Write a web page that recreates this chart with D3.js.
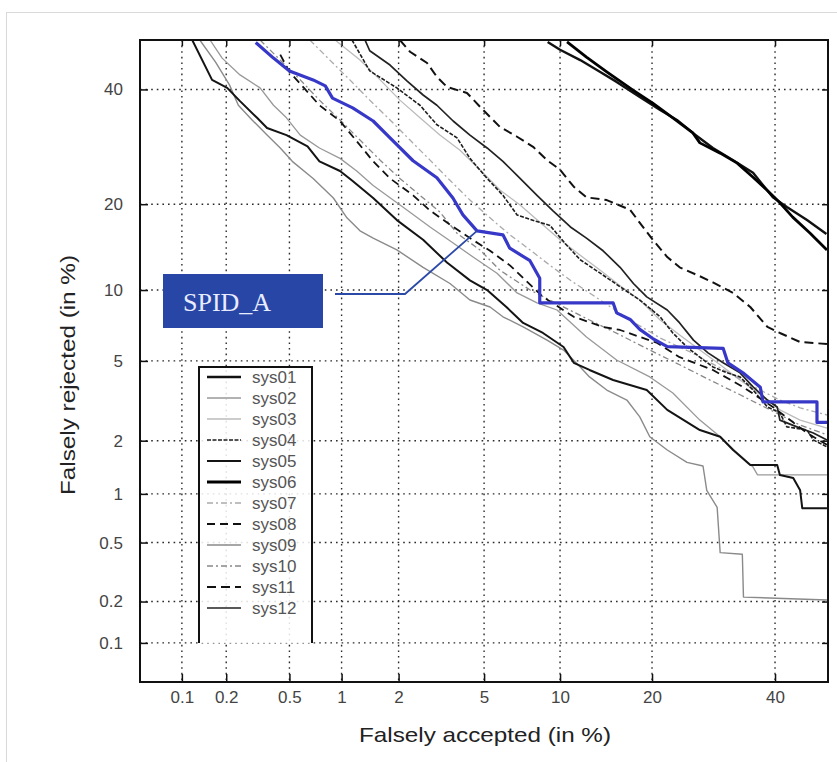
<!DOCTYPE html>
<html>
<head>
<meta charset="utf-8">
<script src="https://cdn.jsdelivr.net/npm/d3@7"></script>
<style>
  body { margin: 0; background: #fff; }
  svg { display: block; font-family: "Liberation Sans", Arial, sans-serif; }
</style>
</head>
<body>
<div id="det-chart"></div>
<script>
// tick positions, in percent
const xTicks = [0.1, 0.2, 0.5, 1, 2, 5, 10, 20, 40];
const yTicks = [0.1, 0.2, 0.5, 1, 2, 5, 10, 20, 40];
const tickLabels = ["0.1", "0.2", "0.5", "1", "2", "5", "10", "20", "40"];

// DET curves: [falsely accepted %, falsely rejected %]
const sys01 = [[9.0,49.6],[10.0,48.0],[11.8,45.9],[13.8,43.5],[15.6,41.5],[18.4,38.5],[21.1,36.0],[23.5,34.1],[26.0,31.6],[29.1,29.0],[32.5,26.9],[36.0,24.8],[39.6,21.0],[42.2,19.6],[46.0,17.8],[49.7,16.0]];
const sys02 = [[0.156,50],[0.188,46.3],[0.246,42.9],[0.33,40.3],[0.40,36.9],[0.48,34.5],[0.58,31.3],[0.75,29.0],[0.98,27.2],[1.21,25.1],[1.48,22.8],[2.1,19.6],[2.85,16.9],[3.65,14.9],[4.48,13.3],[5.67,11.6],[6.85,9.74],[8.2,8.89],[9.75,8.32],[12.4,6.4],[15.6,5.05],[19.7,4.21],[22.9,3.52],[27.0,2.57],[30.3,2.10],[32.9,1.75],[36.0,1.43],[36.8,1.29],[49.8,1.29]];
const sys03 = [[0.92,50],[1.26,45.9],[1.61,41.9],[2.03,37.9],[2.55,34.5],[3.17,31.3],[3.92,28.6],[4.80,25.3],[5.83,22.1],[7.04,19.9],[8.41,17.5],[10.0,15.3],[11.8,13.5],[13.8,11.9],[16.0,10.4],[18.4,9.13],[21.1,7.56],[23.9,6.53],[27.0,5.6],[30.3,4.8],[33.7,4.07],[37.3,3.45],[40.9,2.9],[44.7,2.57],[49.8,2.33]];
const sys04 = [[1.14,50],[1.42,43.7],[1.96,40.3],[2.55,36.9],[3.07,33.2],[3.8,30.8],[4.34,27.2],[5.15,23.9],[6.0,21.3],[6.85,18.5],[8.2,17.6],[9.18,17.1],[10.4,14.9],[11.8,13.0],[13.8,11.6],[16.0,10.3],[18.4,9.13],[21.1,7.8],[22.9,6.66],[25.0,5.78],[27.0,5.2],[29.1,4.69],[31.5,4.4],[33.7,4.21],[36.0,3.64],[38.6,3.0],[40.9,2.8],[42.2,2.37],[46.0,2.28],[47.2,2.02],[49.8,1.85]];
const sys05 = [[0.118,50],[0.161,41.9],[0.203,40.3],[0.246,37.7],[0.316,34.5],[0.365,32.6],[0.48,31.3],[0.64,29.3],[0.75,26.7],[0.98,25.1],[1.15,23.5],[1.48,20.9],[1.96,17.8],[2.64,15.3],[3.42,12.7],[4.34,10.9],[5.15,10.0],[6.2,8.56],[7.24,7.35],[8.64,6.66],[10.3,5.78],[11.2,4.9],[12.7,4.54],[15.2,4.07],[19.3,3.64],[22.1,2.90],[27.0,2.28],[30.3,2.10],[32.5,1.78],[35.5,1.47],[40.4,1.47],[40.9,1.29],[43.4,1.24],[44.7,1.05],[45.1,0.82],[49.8,0.82]];
const sys06 = [[10.6,49.6],[12.4,46.5],[14.5,43.5],[17.5,39.9],[20.1,37.3],[22.9,34.5],[25.9,31.7],[27.0,29.9],[30.3,28.1],[33.2,26.4],[36.0,24.1],[38.5,22.1],[40.9,20.2],[43.3,18.2],[46.6,16.1],[49.8,14.1]];
const sys07 = [[0.66,50],[0.86,45.9],[1.11,41.9],[1.42,37.9],[1.81,34.1],[2.28,30.4],[2.85,26.9],[3.53,23.6],[4.34,20.6],[5.30,18.1],[6.41,15.9],[7.71,14.1],[9.18,12.4],[10.9,10.9],[13.8,9.13],[17.2,7.56],[21.1,6.33],[25.5,5.49],[30.3,4.64],[35.5,3.85],[40.9,3.25],[44.7,2.97],[49.8,2.73]];
const sys08 = [[0.44,47.0],[0.50,43.5],[0.61,40.3],[0.75,36.9],[0.98,33.9],[1.21,30.2],[1.48,26.7],[1.81,23.9],[2.36,21.3],[2.85,19.1],[3.53,17.2],[4.34,15.5],[5.30,14.0],[6.41,12.4],[8.64,9.4],[11.2,7.8],[14.1,7.07],[16.0,6.86],[20.7,6.02],[23.9,5.2],[29.1,4.54],[34.2,3.77],[39.6,3.0],[46.0,2.2],[49.8,1.9]];
const sys09 = [[0.133,50],[0.17,45.5],[0.21,40.9],[0.24,36.9],[0.294,34.1],[0.365,31.3],[0.44,29.0],[0.52,26.7],[0.69,23.9],[0.90,20.9],[1.07,18.1],[1.26,16.4],[1.48,15.5],[1.96,14.1],[2.64,12.2],[3.53,10.6],[4.34,9.13],[5.30,8.56],[6.0,7.8],[7.24,7.07],[8.95,6.2],[10.3,5.6],[11.8,4.69],[12.7,4.21],[14.5,3.64],[16.8,3.25],[18.4,2.67],[19.7,2.10],[22.1,1.78],[25.0,1.52],[27.5,1.45],[28.1,1.05],[29.8,0.83],[30.3,0.43],[34.1,0.42],[34.3,0.215],[49.8,0.205]];
const sys10 = [[0.33,50],[0.44,45.9],[0.58,41.9],[0.75,37.9],[0.98,34.1],[1.26,30.4],[1.61,26.9],[2.03,23.9],[2.55,21.3],[3.17,18.9],[3.8,16.1],[4.80,14.1],[5.83,11.9],[7.71,10.0],[10.0,8.7],[12.7,7.56],[16.0,6.53],[19.7,5.6],[23.9,4.8],[28.6,4.07],[33.7,3.45],[39.1,2.9],[44.7,2.42],[49.8,2.15]];
const sys11 = [[2.03,50],[2.28,47.6],[2.76,45.3],[3.07,42.5],[3.42,40.5],[4.21,39.3],[4.95,36.0],[5.83,32.8],[6.85,31.0],[7.92,29.2],[8.95,26.9],[10.0,25.3],[11.2,22.6],[12.4,21.0],[14.5,20.6],[17.2,19.2],[18.8,16.9],[20.1,15.3],[22.1,13.3],[23.9,12.2],[27.0,11.3],[29.1,10.7],[32.5,9.74],[35.5,8.56],[38.6,7.07],[40.9,6.66],[44.7,6.08],[49.8,5.96]];
const sys12 = [[1.34,50],[1.42,47.8],[1.81,44.9],[2.2,41.7],[2.64,38.9],[3.07,36.9],[3.65,33.9],[4.34,31.3],[5.15,29.0],[6.0,26.7],[7.04,23.9],[8.2,21.3],[9.4,19.1],[10.9,16.9],[12.4,15.5],[14.1,14.0],[16.0,12.2],[17.6,10.6],[19.3,9.4],[22.1,8.32],[23.9,7.35],[26.0,6.2],[28.3,5.44],[30.8,4.9],[33.7,4.4],[36.0,3.77],[38.6,3.25],[40.4,3.0],[40.9,2.57],[44.1,2.37],[47.2,2.2],[49.8,2.02]];
const spidA = [[0.31,49.5],[0.40,46.3],[0.50,43.7],[0.69,41.9],[0.81,40.7],[0.89,38.3],[1.15,36.4],[1.48,33.9],[1.81,30.8],[2.36,26.8],[3.07,24.0],[3.64,20.9],[4.04,18.5],[4.66,16.4],[6.0,15.9],[6.4,14.3],[7.7,12.9],[8.4,11.1],[8.4,8.9],[15.2,8.9],[15.6,8.1],[17.2,7.6],[18.4,6.9],[20.1,6.3],[22.1,5.8],[30.8,5.7],[31.6,4.9],[34.2,4.4],[37.3,3.76],[37.8,3.18],[47.9,3.18],[47.9,2.5],[50,2.5]];

const legendNames = ["sys01","sys02","sys03","sys04","sys05","sys06","sys07","sys08","sys09","sys10","sys11","sys12"];
const seriesData = {sys01, sys02, sys03, sys04, sys05, sys06, sys07, sys08, sys09, sys10, sys11, sys12};

// line styles per system
const styles = {
    sys01: {stroke: "#111", width: 2.4, dash: null},
    sys02: {stroke: "#999", width: 1.3, dash: null},
    sys03: {stroke: "#bbb", width: 1.3, dash: null},
    sys04: {stroke: "#1e1e1e", width: 1.6, dash: "4,1.5"},
    sys05: {stroke: "#141414", width: 2, dash: null},
    sys06: {stroke: "#000", width: 2.8, dash: null},
    sys07: {stroke: "#aaa", width: 1.3, dash: "6,3,2,3"},
    sys08: {stroke: "#111", width: 1.8, dash: "8,5"},
    sys09: {stroke: "#8a8a8a", width: 1.4, dash: null},
    sys10: {stroke: "#888", width: 1.3, dash: "6,3,2,3"},
    sys11: {stroke: "#111", width: 2, dash: "9,5"},
    sys12: {stroke: "#222", width: 1.7, dash: null}
};
const drawOrder = ["sys03","sys07","sys10","sys02","sys09","sys04","sys12","sys08","sys11","sys05","sys01","sys06"];

// inverse of the standard normal cdf (Acklam)
function probit(p) {
    const a = [-3.969683028665376e+01, 2.209460984245205e+02, -2.759285104469687e+02, 1.383577518672690e+02, -3.066479806614716e+01, 2.506628277459239e+00];
    const b = [-5.447609879822406e+01, 1.615858368580409e+02, -1.556989798598866e+02, 6.680131188771972e+01, -1.328068155288572e+01];
    const c = [-7.784894002430293e-03, -3.223964580411365e-01, -2.400758277161838e+00, -2.549732539343734e+00, 4.374664141464968e+00, 2.938163982698783e+00];
    const d = [7.784695709041462e-03, 3.224671290700398e-01, 2.445134137142996e+00, 3.754408661907416e+00];
    let q, r;
    if (p < 0.02425) {
        q = Math.sqrt(-2 * Math.log(p));
        return (((((c[0]*q+c[1])*q+c[2])*q+c[3])*q+c[4])*q+c[5]) / ((((d[0]*q+d[1])*q+d[2])*q+d[3])*q+1);
    } else if (p <= 1 - 0.02425) {
        q = p - 0.5; r = q * q;
        return (((((a[0]*r+a[1])*r+a[2])*r+a[3])*r+a[4])*r+a[5])*q / (((((b[0]*r+b[1])*r+b[2])*r+b[3])*r+b[4])*r+1);
    }
    q = Math.sqrt(-2 * Math.log(1 - p));
    return -(((((c[0]*q+c[1])*q+c[2])*q+c[3])*q+c[4])*q+c[5]) / ((((d[0]*q+d[1])*q+d[2])*q+d[3])*q+1);
}

let width = 837, height = 762;
let plot = {left: 140, top: 40, right: 828, bottom: 682};

let svg = d3.select("#det-chart").append("svg")
    .attr("width", width)
    .attr("height", height);

// faint border round the picture
svg.append("rect")
    .attr("x", 6.5).attr("y", 12.5)
    .attr("width", 840).attr("height", 800)
    .attr("fill", "none").attr("stroke", "#d9d9d9");

let x = d3.scaleLinear().domain([probit(0.0005), 0]).range([plot.left, plot.right]);
let y = d3.scaleLinear().domain([probit(0.0005), 0]).range([plot.bottom, plot.top]);
let fx = v => x(probit(v / 100));
let fy = v => y(probit(v / 100));

svg.append("clipPath").attr("id", "plot-clip")
    .append("rect")
    .attr("x", plot.left).attr("y", plot.top)
    .attr("width", plot.right - plot.left).attr("height", plot.bottom - plot.top);

// dotted grid
let grid = svg.append("g").attr("stroke", "#2a2a2a").attr("stroke-width", 1.4).attr("stroke-dasharray", "1.6,4");
grid.selectAll("line.gx").data(xTicks).enter().append("line")
    .attr("x1", d => fx(d)).attr("x2", d => fx(d))
    .attr("y1", plot.top).attr("y2", plot.bottom);
grid.selectAll("line.gy").data(yTicks).enter().append("line")
    .attr("y1", d => fy(d)).attr("y2", d => fy(d))
    .attr("x1", plot.left).attr("x2", plot.right);

let line = d3.line()
    .x(d => fx(d[0]))
    .y(d => fy(d[1]));

let curves = svg.append("g").attr("clip-path", "url(#plot-clip)").attr("fill", "none");
drawOrder.forEach(name => {
    let st = styles[name];
    curves.append("path")
        .datum(seriesData[name])
        .attr("d", line)
        .attr("stroke", st.stroke)
        .attr("stroke-width", st.width)
        .attr("stroke-dasharray", st.dash)
        .attr("stroke-linejoin", "round");
});

curves.append("path")
    .datum(spidA)
    .attr("d", line)
    .attr("stroke", "#3838c8")
    .attr("stroke-width", 3.2)
    .attr("stroke-linejoin", "round");

// axes with ticks pointing inwards
let xProbit = xTicks.map(t => probit(t / 100));
let yProbit = yTicks.map(t => probit(t / 100));

let axisStyle = g => {
    g.select(".domain").remove();
    g.selectAll(".tick line").attr("stroke", "#111").attr("stroke-width", 1.5);
    g.selectAll(".tick text").attr("fill", "#444").style("font-size", "17px");
};

svg.append("g").attr("transform", `translate(0,${plot.bottom})`)
    .call(d3.axisBottom(x).tickValues(xProbit).tickFormat((d, i) => tickLabels[i]).tickSize(-8).tickPadding(9))
    .call(axisStyle);
svg.append("g").attr("transform", `translate(${plot.left},0)`)
    .call(d3.axisLeft(y).tickValues(yProbit).tickFormat((d, i) => tickLabels[i]).tickSize(-8).tickPadding(17))
    .call(axisStyle);
svg.append("g").attr("transform", `translate(0,${plot.top})`)
    .call(d3.axisTop(x).tickValues(xProbit).tickFormat("").tickSize(-6))
    .call(axisStyle);
svg.append("g").attr("transform", `translate(${plot.right},0)`)
    .call(d3.axisRight(y).tickValues(yProbit).tickFormat("").tickSize(-6))
    .call(axisStyle);

// frame
svg.append("rect")
    .attr("x", plot.left).attr("y", plot.top)
    .attr("width", plot.right - plot.left).attr("height", plot.bottom - plot.top)
    .attr("fill", "none").attr("stroke", "#111").attr("stroke-width", 2);

// axis titles
svg.append("text")
    .attr("x", 485).attr("y", 742)
    .attr("text-anchor", "middle")
    .attr("fill", "#222").style("font-size", "21px")
    .attr("textLength", 252).attr("lengthAdjust", "spacingAndGlyphs")
    .text("Falsely accepted (in %)");
svg.append("text")
    .attr("transform", `translate(75,375) rotate(-90)`)
    .attr("text-anchor", "middle")
    .attr("fill", "#222").style("font-size", "21px")
    .attr("textLength", 240).attr("lengthAdjust", "spacingAndGlyphs")
    .text("Falsely rejected (in %)");

// legend, open at the bottom
let legend = {left: 199, right: 312, top: 367, bottom: 643, row: 21};
svg.append("rect")
    .attr("x", legend.left).attr("y", legend.top)
    .attr("width", legend.right - legend.left).attr("height", legend.bottom - legend.top)
    .attr("fill", "#fff").attr("fill-opacity", 0.85);
svg.append("path")
    .attr("d", `M${legend.left},${legend.bottom}V${legend.top}H${legend.right}V${legend.bottom}`)
    .attr("fill", "none").attr("stroke", "#111").attr("stroke-width", 2);

let items = svg.selectAll("g.legend-item").data(legendNames).enter().append("g")
    .attr("class", "legend-item")
    .attr("transform", (d, i) => `translate(${legend.left},${legend.top + 10 + i * legend.row})`);
items.append("line")
    .attr("x1", 8).attr("x2", 42).attr("y1", 0).attr("y2", 0)
    .attr("stroke", d => styles[d].stroke)
    .attr("stroke-width", d => styles[d].width)
    .attr("stroke-dasharray", d => styles[d].dash);
items.append("text")
    .attr("x", 53).attr("y", 0).attr("dy", "0.36em")
    .attr("fill", "#555").style("font-size", "17px")
    .text(d => d);

// SPID_A callout
let tip = spidA[13];
let box = {x: 163, y: 274, w: 160, h: 54};
svg.append("path")
    .attr("d", `M${box.x + box.w + 12},${box.y + 20}H${box.x + box.w + 82}L${fx(tip[0])},${fy(tip[1])}`)
    .attr("fill", "none").attr("stroke", "#2b4aa8").attr("stroke-width", 1.8);
svg.append("rect")
    .attr("x", box.x).attr("y", box.y).attr("width", box.w).attr("height", box.h)
    .attr("fill", "#2846a6");
svg.append("text")
    .attr("x", box.x + 20).attr("y", box.y + 37)
    .attr("fill", "#e8ecff")
    .style("font-family", "'Liberation Serif', serif").style("font-size", "26px")
    .text("SPID_A");
</script>
</body>
</html>
